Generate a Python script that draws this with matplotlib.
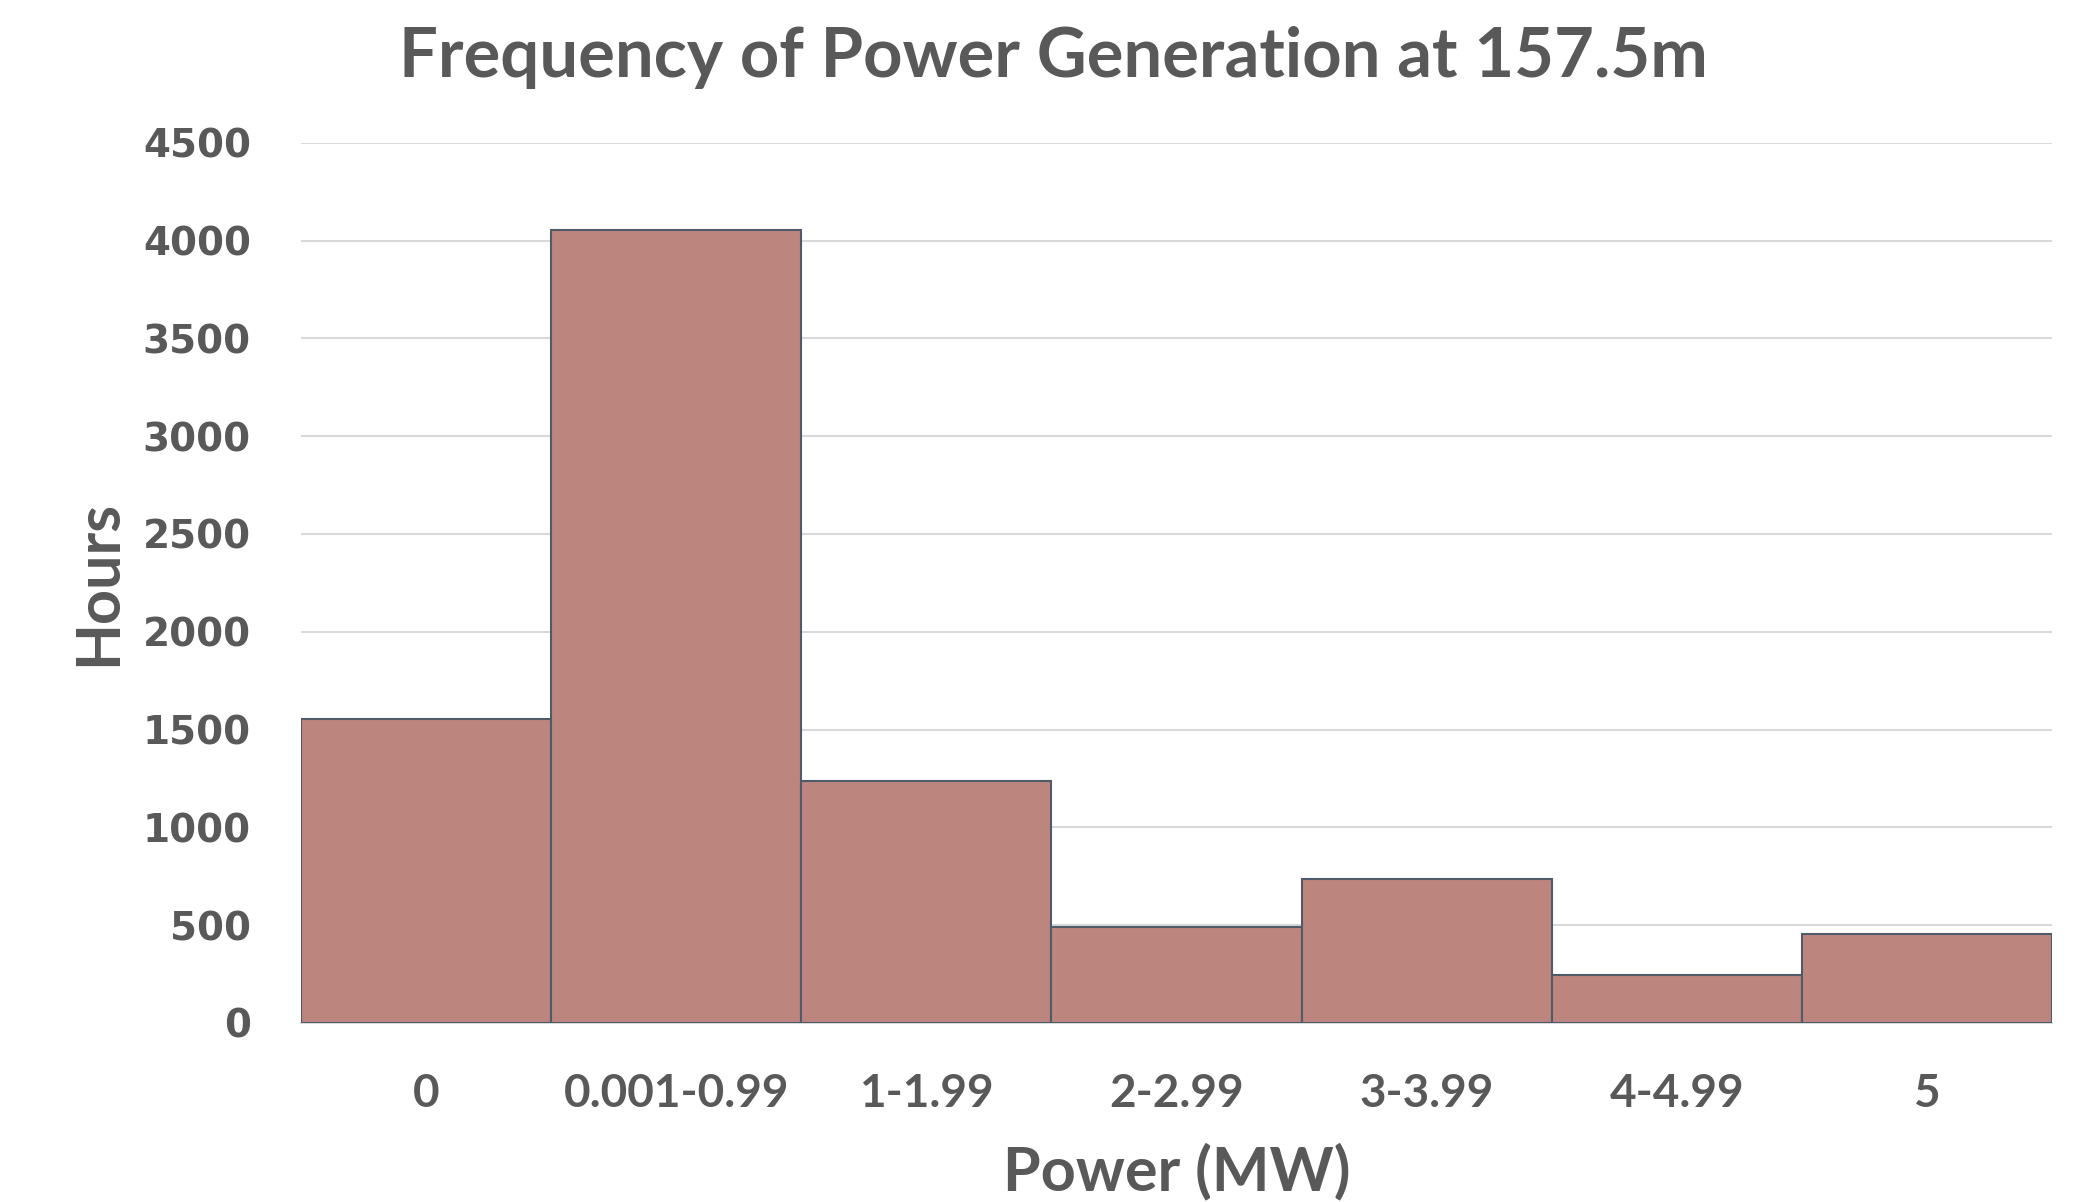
import matplotlib.pyplot as plt
import numpy as np

# Power bins and hours in each
categories = ['0', '0.001-0.99', '1-1.99', '2-2.99', '3-3.99', '4-4.99', '5']
hours = [1553, 4056, 1237, 490, 738, 243, 455]
y_ticks = [0, 500, 1000, 1500, 2000, 2500, 3000, 3500, 4000, 4500]

text_color = '#595959'
label_font = 'Lato'

fig = plt.figure(figsize=(20.73, 12.02), dpi=100)
ax = fig.add_axes([0.1452, 0.149, 0.8447, 0.7322])

x = np.arange(len(categories))
ax.bar(x, hours, width=1.0, color='#BC857D', edgecolor='#4F5B69', linewidth=1.5, zorder=3)

ax.set_xlim(-0.5, len(categories) - 0.5)
ax.set_ylim(0, 4500)
ax.set_yticks(y_ticks)
ax.set_yticklabels([str(v) for v in y_ticks], fontfamily='DejaVu Sans',
                   fontweight='bold', fontsize=28, color=text_color)
ax.set_xticks(x)
ax.set_xticklabels(categories, fontfamily=label_font, fontweight='bold',
                   fontsize=33, color=text_color)
ax.tick_params(axis='both', length=0)
ax.tick_params(axis='y', pad=36)
ax.tick_params(axis='x', pad=36)

ax.yaxis.grid(True, color='#D9D9D9', linewidth=1.5, zorder=0)
ax.set_axisbelow(True)
for s in ['top', 'right', 'left']:
    ax.spines[s].set_visible(False)
ax.spines['bottom'].set_color('#D9D9D9')
ax.spines['bottom'].set_linewidth(1.5)

ax.set_xlabel('Power (MW)', fontfamily=label_font, fontweight='bold',
              fontsize=44, color=text_color, labelpad=20)
ax.set_ylabel('Hours', fontfamily=label_font, fontweight='bold',
              fontsize=44, color=text_color, labelpad=12)

fig.suptitle('Frequency of Power Generation at 157.5m', fontfamily=label_font,
             fontweight='bold', fontsize=49.5, color=text_color, x=0.508, y=0.978)

fig.savefig('out.png', dpi=100, facecolor='white')
